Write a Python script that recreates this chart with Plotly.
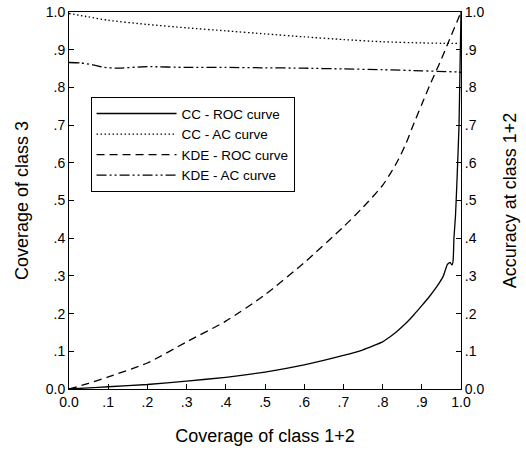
import plotly.graph_objects as go

# ---- data ----
cc_roc_x = [0, .05, .1, .2, .3, .4, .5, .6, .7, .75, .8, .82, .84, .86, .88, .9, .92, .94,
            .955, .965, .972, .977, .98, .982, .986, .99, .995, 1.0]
cc_roc_y = [0, .003, .006, .012, .021, .031, .045, .064, .089, .104, .125, .139, .156, .175,
            .197, .221, .246, .274, .30, .33, .336, .329, .342, .40, .46, .56, .70, 1.0]

cc_ac_x = [0, .05, .1, .2, .3, .4, .5, .6, .7, .8, .9, .95, .99]
cc_ac_y = [.996, .987, .978, .967, .958, .95, .942, .934, .927, .921, .918, .917, .917]

kde_roc_x = [0, .05, .1, .2, .3, .4, .5, .6, .7, .75, .8, .82, .84, .86, .88, .9, .92, .95, .97, 1.0]
kde_roc_y = [0, .015, .032, .069, .125, .18, .25, .335, .43, .482, .54, .572, .608, .652, .705,
             .755, .805, .875, .925, 1.0]

kde_ac_x = [0, .03, .06, .09, .12, .2, .3, .4, .5, .6, .7, .8, .9, .96, .99, 1.0]
kde_ac_y = [.866, .865, .86, .853, .851, .855, .853, .853, .852, .851, .849, .847, .844, .842, .841, .84]

tick_vals = [0, .1, .2, .3, .4, .5, .6, .7, .8, .9, 1.0]
tick_text = ["0.0", ".1", ".2", ".3", ".4", ".5", ".6", ".7", ".8", ".9", "1.0"]

FONT = "Liberation Sans, Arial, sans-serif"

fig = go.Figure()
fig.add_trace(go.Scatter(x=cc_roc_x, y=cc_roc_y, mode="lines", name="CC - ROC curve",
                         line=dict(color="black", width=1.3, dash="solid",
                                   shape="spline", smoothing=0.4)))
fig.add_trace(go.Scatter(x=cc_ac_x, y=cc_ac_y, mode="lines", name="CC - AC curve", yaxis="y2",
                         line=dict(color="black", width=1.3, dash="1.5px,2.5px",
                                   shape="spline", smoothing=0.6)))
fig.add_trace(go.Scatter(x=kde_roc_x, y=kde_roc_y, mode="lines", name="KDE - ROC curve",
                         line=dict(color="black", width=1.3, dash="8px,5px",
                                   shape="spline", smoothing=0.6)))
fig.add_trace(go.Scatter(x=kde_ac_x, y=kde_ac_y, mode="lines", name="KDE - AC curve", yaxis="y2",
                         line=dict(color="black", width=1.3, dash="10px,3px,2px,3px,2px,3px",
                                   shape="spline", smoothing=0.6)))

axis_common = dict(range=[0, 1], tickvals=tick_vals, ticktext=tick_text,
                   showgrid=False, zeroline=False, showline=True, linecolor="black",
                   linewidth=1, ticks="inside", ticklen=5, tickcolor="black",
                   automargin=False,
                   tickfont=dict(family=FONT, size=14, color="black"))

fig.update_layout(
    width=526, height=451,
    margin=dict(l=69, r=65, t=12, b=62),
    paper_bgcolor="white", plot_bgcolor="white",
    font=dict(family=FONT, color="black"),
    xaxis=dict(**axis_common, mirror=True,
               title=dict(text="Coverage of class 1+2", font=dict(family=FONT, size=18), standoff=20)),
    yaxis=dict(**axis_common,
               title=dict(text="Coverage of class 3", font=dict(family=FONT, size=18), standoff=12)),
    yaxis2=dict(**axis_common, overlaying="y", side="right",
                title=dict(text="Accuracy at class 1+2", font=dict(family=FONT, size=18), standoff=19)),
    legend=dict(x=0.055, y=0.774, xanchor="left", yanchor="top",
                bordercolor="black", borderwidth=1, bgcolor="white",
                font=dict(family=FONT, size=13.5), itemwidth=80, tracegroupgap=0),
    showlegend=True,
)

# remove the browser's default 8px body margin so the figure fills the window exactly
fig.write_html("out.html",
               config={"displayModeBar": False},
               post_script="document.body.style.margin='0px';document.body.style.overflow='hidden';")
